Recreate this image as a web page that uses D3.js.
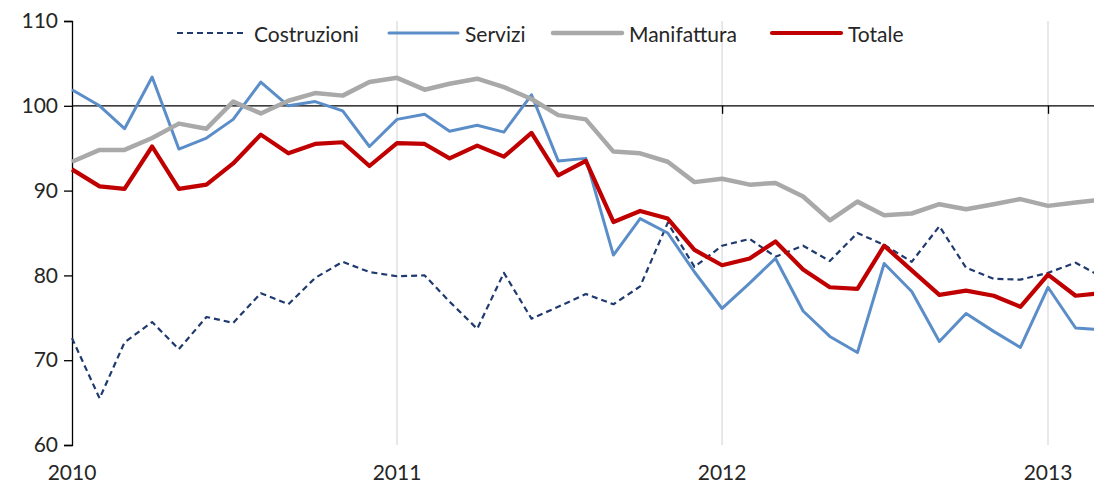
<!DOCTYPE html>
<html>
<head>
<meta charset="utf-8">
<script src="https://cdn.jsdelivr.net/npm/d3@7"></script>
<style>
  html, body { margin: 0; padding: 0; background: #fff; }
  svg { display: block; }
  text { font-family: Lato, "Liberation Sans", sans-serif; fill: #262626; }
</style>
</head>
<body>
<svg id="chart" width="1094" height="486"></svg>
<script>
// ---- Data (monthly, Jan 2010 – Mar 2013) ----
const months = d3.timeMonth.range(new Date(2010, 0, 1), new Date(2013, 3, 1));

const costruzioni = [72.6, 65.5, 72.1, 74.5, 71.3, 75.1, 74.4, 77.9, 76.6, 79.7, 81.6, 80.4,
                     79.9, 80.0, 76.9, 73.7, 80.3, 74.9, 76.3, 77.8, 76.6, 78.7, 86.2, 81.0,
                     83.5, 84.3, 82.2, 83.5, 81.7, 85.0, 83.6, 81.6, 85.8, 80.9, 79.6, 79.5,
                     80.3, 81.5, 79.9];
const servizi     = [101.9, 100.0, 97.3, 103.4, 94.9, 96.2, 98.4, 102.8, 100.0, 100.5, 99.4, 95.2,
                     98.4, 99.0, 97.0, 97.7, 96.9, 101.3, 93.5, 93.8, 82.4, 86.7, 85.0, 80.4,
                     76.1, 79.1, 82.0, 75.8, 72.8, 70.9, 81.4, 78.1, 72.2, 75.5, 73.4, 71.5,
                     78.6, 73.8, 73.6];
const manifattura = [93.4, 94.8, 94.8, 96.2, 97.9, 97.3, 100.5, 99.1, 100.6, 101.5, 101.2, 102.8,
                     103.3, 101.9, 102.6, 103.2, 102.2, 100.8, 98.9, 98.4, 94.6, 94.4, 93.4, 91.0,
                     91.4, 90.7, 90.9, 89.3, 86.5, 88.7, 87.1, 87.3, 88.4, 87.8, 88.4, 89.0,
                     88.2, 88.6, 88.9];
const totale      = [92.5, 90.5, 90.2, 95.2, 90.2, 90.7, 93.2, 96.6, 94.4, 95.5, 95.7, 92.9,
                     95.6, 95.5, 93.8, 95.3, 94.0, 96.8, 91.8, 93.5, 86.3, 87.6, 86.7, 83.0,
                     81.2, 82.0, 84.0, 80.7, 78.6, 78.4, 83.5, 80.6, 77.7, 78.2, 77.6, 76.3,
                     80.1, 77.6, 77.9];

const seriesNames  = ["Costruzioni", "Servizi", "Manifattura", "Totale"];
const yTickValues  = [60, 70, 80, 90, 100, 110];
const xTickYears   = [2010, 2011, 2012, 2013];

// ---- Styles ----
const styles = {
  "Costruzioni": { color: "#1f3a6e", width: 2.2, dash: "6,4" },
  "Servizi":     { color: "#5b8ec8", width: 3,   dash: null },
  "Manifattura": { color: "#a9a9a9", width: 4.5, dash: null },
  "Totale":      { color: "#c00000", width: 4.2, dash: null }
};
const seriesData = {
  "Costruzioni": costruzioni, "Servizi": servizi,
  "Manifattura": manifattura, "Totale": totale
};
const drawOrder = ["Costruzioni", "Servizi", "Manifattura", "Totale"];

const svg = d3.select("#chart");
const plotLeft = 72, plotTop = 21, plotBottom = 445;
const fontSize = 21;

const x = d3.scaleTime()
  .domain([new Date(2010, 0, 1), new Date(2013, 0, 1)])
  .range([plotLeft, 1048]);
const y = d3.scaleLinear().domain([60, 110]).range([plotBottom, plotTop]);

// vertical year gridlines
const yearDates = xTickYears.map(yr => new Date(yr, 0, 1));
svg.append("g").selectAll("line").data(yearDates.slice(1)).join("line")
  .attr("x1", d => x(d)).attr("x2", d => x(d))
  .attr("y1", plotTop).attr("y2", plotBottom)
  .attr("stroke", "#d9d9d9").attr("stroke-width", 1.2);

// y axis
const yAxis = d3.axisLeft(y).tickValues(yTickValues).tickSize(8).tickPadding(6);
const gy = svg.append("g").attr("transform", `translate(${plotLeft},0)`).call(yAxis);
gy.select(".domain").attr("stroke", "#000").attr("stroke-width", 1.3);
gy.selectAll(".tick line").attr("stroke", "#000").attr("stroke-width", 1.3);
gy.selectAll(".tick text").attr("font-size", fontSize).attr("fill", "#262626")
  .attr("font-family", "Lato, 'Liberation Sans', sans-serif");

// x axis crossing at 100
const xAxis = d3.axisBottom(x).tickValues(yearDates.slice(1)).tickSize(8).tickFormat("");
const gx = svg.append("g").attr("transform", `translate(0,${y(100)})`).call(xAxis);
gx.select(".domain").attr("stroke", "#000").attr("stroke-width", 1.3)
  .attr("d", `M${plotLeft},0H1094`);
gx.selectAll(".tick line").attr("stroke", "#000").attr("stroke-width", 1.3);

// x year labels at bottom
svg.append("g").selectAll("text").data(xTickYears).join("text")
  .attr("x", d => x(new Date(d, 0, 1)))
  .attr("y", 471)
  .attr("text-anchor", "middle")
  .attr("dominant-baseline", "central")
  .attr("font-size", fontSize)
  .text(d => d);

// lines
const line = d3.line().x((d, i) => x(months[i])).y(d => y(d));
drawOrder.forEach(name => {
  const s = styles[name];
  svg.append("path")
    .datum(seriesData[name])
    .attr("d", line)
    .attr("fill", "none")
    .attr("stroke", s.color)
    .attr("stroke-width", s.width)
    .attr("stroke-linejoin", "round")
    .attr("stroke-dasharray", s.dash);
});

// legend
const legendPos = [
  { lx: 177, tx: 254 },
  { lx: 389, tx: 465 },
  { lx: 553, tx: 629 },
  { lx: 772, tx: 848 }
];
const legend = svg.append("g");
seriesNames.forEach((name, i) => {
  const s = styles[name];
  const p = legendPos[i];
  legend.append("line")
    .attr("x1", p.lx).attr("x2", p.lx + 69)
    .attr("y1", 33).attr("y2", 33)
    .attr("stroke", s.color)
    .attr("stroke-width", s.width)
    .attr("stroke-linecap", s.dash ? "butt" : "round")
    .attr("stroke-dasharray", s.dash);
  legend.append("text")
    .attr("x", p.tx).attr("y", 33)
    .attr("dominant-baseline", "central")
    .attr("font-size", fontSize)
    .text(name);
});
</script>
</body>
</html>
